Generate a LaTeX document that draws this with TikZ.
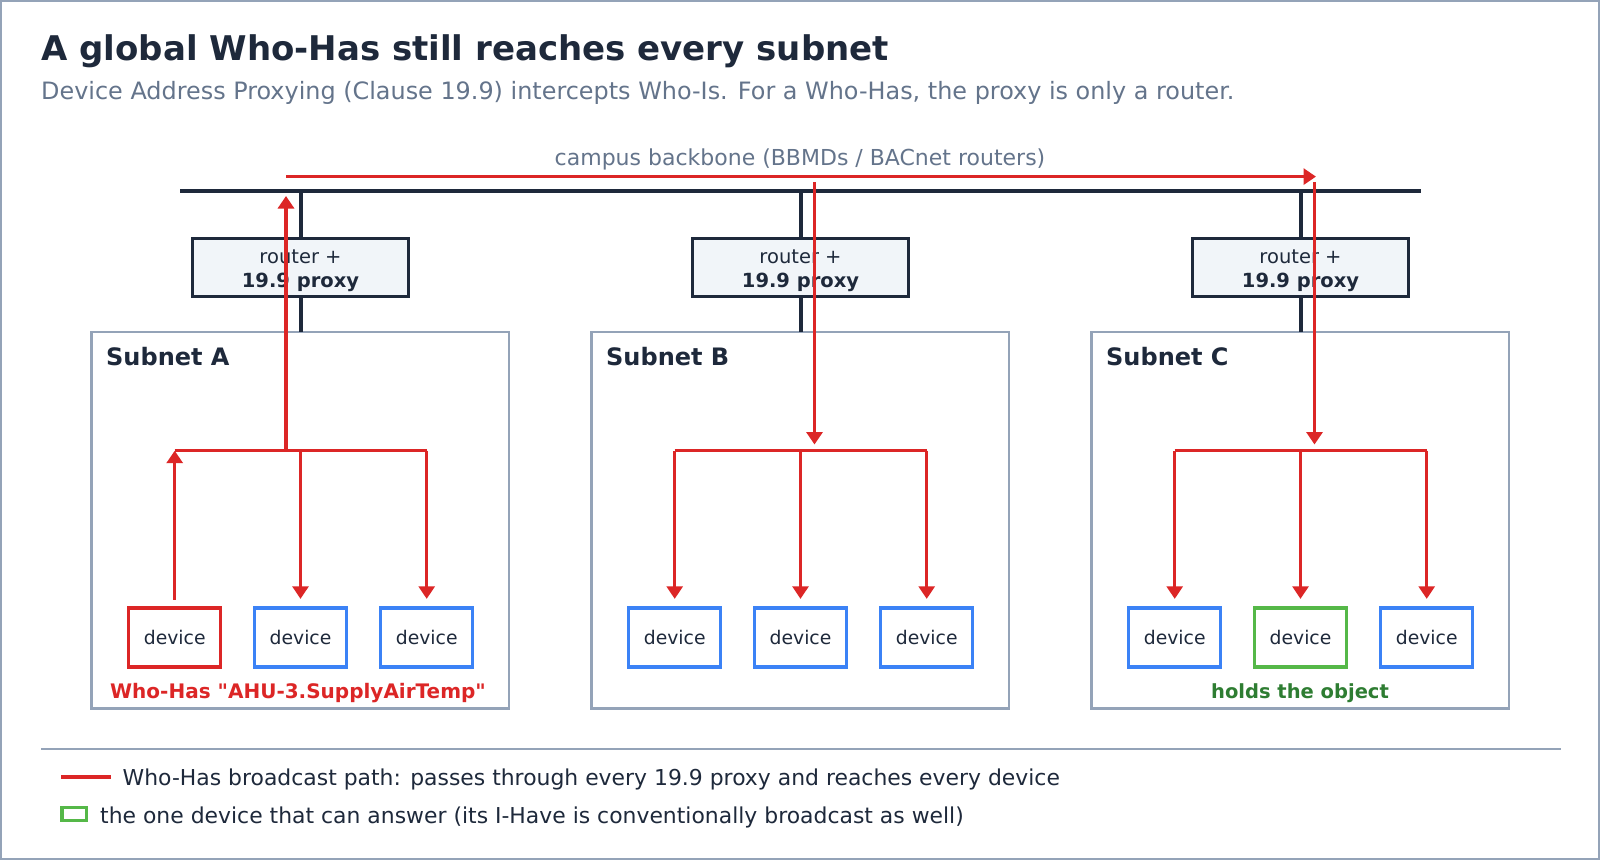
\documentclass[tikz,border=0pt]{standalone}
\usepackage{fontspec}
\setmainfont{DejaVu Sans}[Ligatures=TeXOff]
\usetikzlibrary{arrows.meta,calc}
\definecolor{ink}{HTML}{1E293B}
\definecolor{muted}{HTML}{64748B}
\definecolor{framec}{HTML}{94A3B8}
\definecolor{routerfill}{HTML}{F1F5F9}
\definecolor{whred}{HTML}{DC2626}
\definecolor{devblue}{HTML}{3B82F6}
\definecolor{devgreen}{HTML}{55B848}
\definecolor{textgreen}{HTML}{2E7D32}
\begin{document}
\begin{tikzpicture}[x=1pt,y=-1pt,
  tipend/.style={-{Triangle[length=12.5pt,width=16pt]}},
  redmain/.style={draw=whred,line width=3.3pt},
  redbranch/.style={draw=whred,line width=2.6pt},
  darkline/.style={draw=ink,line width=3.6pt},
  devbox/.style={draw=devblue,line width=3.3pt,minimum width=92pt,minimum height=59pt,inner sep=0pt,text=ink,font=\fontsize{18.8}{22}\selectfont},
  srcbox/.style={devbox,draw=whred},
  hitbox/.style={devbox,draw=devgreen},
  routerbox/.style={draw=ink,fill=routerfill,line width=2.7pt,minimum width=216pt,minimum height=58pt,inner sep=0pt},
  routertext/.style={inner sep=0pt,align=center,text=ink,yshift=-3.5pt,font=\fontsize{19.5}{23.5}\selectfont},
  subnetbox/.style={draw=framec,line width=2.5pt,minimum width=417.5pt,minimum height=376.5pt,inner sep=0pt},
  subnetlabel/.style={anchor=base west,inner sep=0pt,text=ink,font=\fontsize{24}{28}\selectfont\bfseries},
  notelabel/.style={anchor=base,inner sep=0pt,font=\fontsize{19.5}{23}\selectfont\bfseries},
  legendtext/.style={anchor=base west,inner sep=0pt,text=ink,font=\fontsize{21.9}{26}\selectfont}
]
\useasboundingbox (0,0) rectangle (1600,860);
\fill[white] (0,0) rectangle (1600,860);
\draw[framec,line width=2pt] (1,1) rectangle (1599,859);

% title
\node[anchor=base west,inner sep=0pt,text=ink,font=\fontsize{34}{40}\selectfont\bfseries] (title) at (41,60.5) {A global Who-Has still reaches every subnet};
\node[anchor=base west,inner sep=0pt,text=muted,font=\fontsize{23.9}{28}\selectfont] (subtitle) at (41,99) {Device Address Proxying (Clause 19.9) intercepts Who-Is. For a Who-Has, the proxy is only a router.};

% backbone
\coordinate (bbL) at (180,190.7);
\coordinate (bbR) at (1420.7,190.7);
\node[anchor=base,inner sep=0pt,text=muted,font=\fontsize{22}{26}\selectfont] (bblabel) at (800,165) {campus backbone (BBMDs / BACnet routers)};

% subnets
\node[subnetbox] (sA) at (300.3,520.2) {};
\node[subnetbox] (sB) at (800.3,520.2) {};
\node[subnetbox] (sC) at (1300.3,520.2) {};

% dark links backbone - router - subnet
\draw[darkline] (301,190.7) -- (301,332);
\draw[darkline] (801,190.7) -- (801,332);
\draw[darkline] (1301,190.7) -- (1301,332);
\draw[ink,line width=4pt] (bbL) -- (bbR);

% routers
\node[routerbox,label={[routertext]center:{router +\\\textbf{19.9 proxy}}}] (rA) at (300.5,267.5) {};
\node[routerbox,label={[routertext]center:{router +\\\textbf{19.9 proxy}}}] (rB) at (800.5,267.5) {};
\node[routerbox,label={[routertext]center:{router +\\\textbf{19.9 proxy}}}] (rC) at (1300.5,267.5) {};

% subnet labels
\node[subnetlabel] (lA) at (106,365) {Subnet A};
\node[subnetlabel] (lB) at (606,365) {Subnet B};
\node[subnetlabel] (lC) at (1106,365) {Subnet C};

% devices
\node[srcbox] (dA1) at (174.7,637.5) {device};
\node[devbox] (dA2) at (300.5,637.5) {device};
\node[devbox] (dA3) at (426.7,637.5) {device};
\node[devbox] (dB1) at (674.7,637.5) {device};
\node[devbox] (dB2) at (800.5,637.5) {device};
\node[devbox] (dB3) at (926.7,637.5) {device};
\node[devbox] (dC1) at (1174.7,637.5) {device};
\node[hitbox] (dC2) at (1300.5,637.5) {device};
\node[devbox] (dC3) at (1426.7,637.5) {device};

\node[notelabel,text=whred,font=\fontsize{20}{23}\selectfont\bfseries] (noteA) at (298,698.8) {Who-Has "AHU-3.SupplyAirTemp"};
\node[notelabel,text=textgreen] (noteC) at (1300,698.8) {holds the object};

% branch junctions
\coordinate (jA) at (300.5,450.7);
\coordinate (jB) at (800.5,450.7);
\coordinate (jC) at (1300.5,450.7);

% red paths: subnet A
\draw[redmain,tipend,shorten <=6.5pt] (dA1.north) -- (dA1.north |- jA);
\draw[redbranch] (dA1.north |- jA) -- (dA3.north |- jA);
\draw[redbranch,tipend,shorten >=7.5pt] (dA3.north |- jA) -- (dA3.north);
\draw[redbranch,tipend,shorten >=7.5pt] (jA) -- (dA2.north);
\coordinate (tAbot) at (286,450.7);
\coordinate (tAtop) at (286,196);
\draw[redmain,tipend] (tAbot) -- (tAtop);
\coordinate (hL) at (286,176.6);
\coordinate (hR) at (1316,176.6);
\draw[redmain,tipend] (hL) -- (hR);

% subnet B
\coordinate (tBtop) at (814.5,182);
\coordinate (tBbot) at (814.5,444.5);
\draw[redmain,tipend] (tBtop) -- (tBbot);
\draw[redbranch] (dB1.north |- jB) -- (dB3.north |- jB);
\draw[redbranch,tipend,shorten >=7.5pt] (dB1.north |- jB) -- (dB1.north);
\draw[redbranch,tipend,shorten >=7.5pt] (jB) -- (dB2.north);
\draw[redbranch,tipend,shorten >=7.5pt] (dB3.north |- jB) -- (dB3.north);

% subnet C
\coordinate (tCtop) at (1314.5,182);
\coordinate (tCbot) at (1314.5,444.5);
\draw[redmain,tipend] (tCtop) -- (tCbot);
\draw[redbranch] (dC1.north |- jC) -- (dC3.north |- jC);
\draw[redbranch,tipend,shorten >=7.5pt] (dC1.north |- jC) -- (dC1.north);
\draw[redbranch,tipend,shorten >=7.5pt] (jC) -- (dC2.north);
\draw[redbranch,tipend,shorten >=7.5pt] (dC3.north |- jC) -- (dC3.north);

% legend
\coordinate (sepL) at (41,749);
\coordinate (sepR) at (1561,749);
\draw[framec,line width=1.6pt] (sepL) -- (sepR);
\coordinate (lgL) at (61,777);
\coordinate (lgR) at (110.5,777);
\draw[whred,line width=3.3pt] (lgL) -- (lgR);
\node[legendtext] (leg1) at (122.5,785) {Who-Has broadcast path: passes through every 19.9 proxy and reaches every device};
\node[draw=devgreen,line width=3.2pt,minimum width=24.5pt,minimum height=13pt,inner sep=0pt] (legbox) at (74.2,814) {};
\node[legendtext] (leg2) at (100,823.5) {the one device that can answer (its I-Have is conventionally broadcast as well)};
\end{tikzpicture}
\end{document}
